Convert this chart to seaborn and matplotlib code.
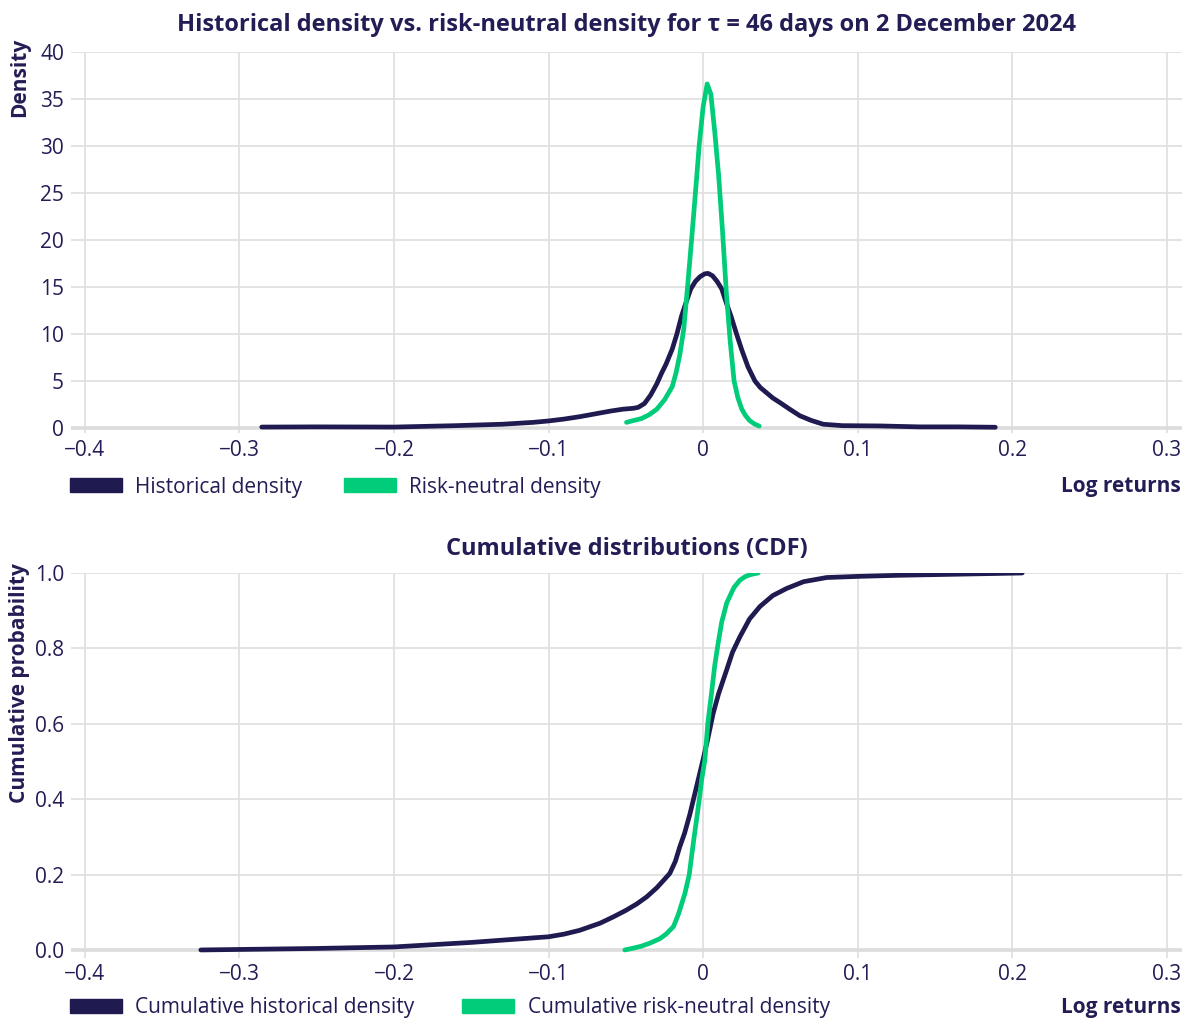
import matplotlib
matplotlib.use("Agg")
import matplotlib.pyplot as plt
from matplotlib.patches import Patch
import seaborn as sns
import pandas as pd

# ---- data: density curves (log returns vs density) ----
hist_x = [-0.2856, -0.25, -0.20, -0.16, -0.13, -0.11, -0.10, -0.09, -0.08, -0.07,
          -0.06, -0.052, -0.045, -0.042, -0.038, -0.034, -0.030, -0.027, -0.024,
          -0.020, -0.017, -0.014, -0.011, -0.008, -0.005, -0.002, 0.001, 0.0032,
          0.006, 0.009, 0.012, 0.015, 0.018, 0.0216, 0.025, 0.029, 0.0335, 0.037,
          0.045, 0.0497, 0.056, 0.0626, 0.070, 0.0777, 0.090, 0.114, 0.14, 0.165,
          0.189]
hist_y = [0.1, 0.12, 0.1, 0.25, 0.4, 0.6, 0.75, 0.95, 1.2, 1.5,
          1.8, 2.0, 2.1, 2.2, 2.6, 3.5, 4.7, 5.8, 6.8,
          8.4, 10.0, 11.9, 13.4, 14.8, 15.6, 16.1, 16.4, 16.45,
          16.2, 15.6, 14.8, 13.3, 11.9, 10.0, 8.3, 6.5, 5.0, 4.3,
          3.2, 2.7, 2.0, 1.3, 0.8, 0.4, 0.25, 0.22, 0.12, 0.12,
          0.08]

rn_x = [-0.0496, -0.045, -0.040, -0.035, -0.030, -0.025, -0.020, -0.0175, -0.015,
        -0.0125, -0.010, -0.0075, -0.005, -0.0025, 0.000, 0.0026, 0.005, 0.0075,
        0.010, 0.0125, 0.015, 0.0175, 0.020, 0.0225, 0.025, 0.0275, 0.030, 0.033,
        0.0363]
rn_y = [0.6, 0.8, 1.0, 1.4, 2.0, 3.0, 4.4, 5.9, 7.9,
        10.6, 15.2, 20.0, 25.0, 30.2, 34.2, 36.6, 35.5, 31.5,
        26.9, 21.0, 14.4, 9.2, 5.0, 3.2, 2.0, 1.3, 0.8, 0.45,
        0.2]

# ---- data: cumulative distributions ----
cdf_hist_x = [-0.325, -0.25, -0.20, -0.15, -0.10, -0.09, -0.08, -0.0667, -0.058,
              -0.05, -0.043, -0.0365, -0.030, -0.026, -0.0216, -0.018, -0.0151,
              -0.012, -0.0086, -0.003, 0.0, 0.003, 0.0065, 0.010, 0.0152, 0.019,
              0.0238, 0.030, 0.0367, 0.045, 0.054, 0.065, 0.0799, 0.100, 0.1274,
              0.2064]
cdf_hist_y = [0.0, 0.004, 0.008, 0.02, 0.035, 0.042, 0.052, 0.071, 0.088,
              0.105, 0.122, 0.141, 0.165, 0.183, 0.203, 0.235, 0.274,
              0.31, 0.36, 0.455, 0.506, 0.56, 0.628, 0.68, 0.743, 0.79,
              0.831, 0.878, 0.911, 0.94, 0.959, 0.977, 0.988, 0.991, 0.994,
              1.0]

cdf_rn_x = [-0.0507, -0.045, -0.040, -0.0345, -0.028, -0.024, -0.0192, -0.016,
            -0.0118, -0.009, -0.0075, -0.006, -0.0043, -0.0025, -0.001, 0.0011,
            0.003, 0.0054, 0.0075, 0.0097, 0.012, 0.0152, 0.018, 0.0200, 0.0238,
            0.027, 0.0300, 0.033, 0.0356]
cdf_rn_y = [0.0, 0.005, 0.01, 0.018, 0.03, 0.042, 0.062, 0.095,
            0.15, 0.2, 0.248, 0.295, 0.345, 0.4, 0.451, 0.504,
            0.6, 0.681, 0.755, 0.814, 0.87, 0.920, 0.945, 0.962, 0.981,
            0.99, 0.995, 0.998, 1.0]

x_ticks = [-0.4, -0.3, -0.2, -0.1, 0.0, 0.1, 0.2, 0.3]
x_tick_labels = ["\u22120.4", "\u22120.3", "\u22120.2", "\u22120.1", "0", "0.1", "0.2", "0.3"]
dens_ticks = [0, 5, 10, 15, 20, 25, 30, 35, 40]
prob_ticks = [0.0, 0.2, 0.4, 0.6, 0.8, 1.0]
prob_tick_labels = ["0.0", "0.2", "0.4", "0.6", "0.8", "1.0"]

NAVY = "#1f1a4f"
GREEN = "#00cc7a"
TEXT = "#231d55"
GRID = "#e0e0e0"

sns.set_theme(style="white")
plt.rcParams["font.family"] = ["Open Sans", "DejaVu Sans"]
plt.rcParams["text.color"] = TEXT
plt.rcParams["axes.labelcolor"] = TEXT
plt.rcParams["xtick.color"] = TEXT
plt.rcParams["ytick.color"] = TEXT

FS = 15
TFS = 17

W, H = 1183, 1019
fig = plt.figure(figsize=(W / 100, H / 100), dpi=100)


def fx(px):
    return px / W


def fy(py):
    return 1 - py / H


ax1 = fig.add_axes([fx(71), fy(432.7), fx(1182) - fx(71), fy(52) - fy(432.7)])
ax2 = fig.add_axes([fx(71), fy(957.5), fx(1182) - fx(71), fy(573) - fy(957.5)])

line_kw = dict(linewidth=3.4, solid_capstyle="round", solid_joinstyle="round",
               estimator=None, sort=False)

df_hist = pd.DataFrame({"x": hist_x, "y": hist_y})
df_rn = pd.DataFrame({"x": rn_x, "y": rn_y})
sns.lineplot(data=df_hist, x="x", y="y", ax=ax1, color=NAVY, zorder=3, **line_kw)
sns.lineplot(data=df_rn, x="x", y="y", ax=ax1, color=GREEN, zorder=4, **line_kw)

df_chist = pd.DataFrame({"x": cdf_hist_x, "y": cdf_hist_y})
df_crn = pd.DataFrame({"x": cdf_rn_x, "y": cdf_rn_y})
sns.lineplot(data=df_chist, x="x", y="y", ax=ax2, color=NAVY, zorder=3, **line_kw)
sns.lineplot(data=df_crn, x="x", y="y", ax=ax2, color=GREEN, zorder=4, **line_kw)

xlim = (-0.409, 0.3098)
for ax, ylim, yt, ytl in [(ax1, (-0.5, 40), dens_ticks, [str(t) for t in dens_ticks]),
                          (ax2, (-0.02, 1.0), prob_ticks, prob_tick_labels)]:
    ax.set_xlim(*xlim)
    ax.set_ylim(*ylim)
    ax.set_xticks(x_ticks)
    ax.set_xticklabels(x_tick_labels)
    ax.set_yticks(yt)
    ax.set_yticklabels(ytl)
    ax.grid(True, color=GRID, linewidth=1.3, zorder=0)
    ax.set_axisbelow(True)
    ax.axhline(0, color="#dcdcdc", linewidth=2.6, zorder=1)
    for s in ax.spines.values():
        s.set_visible(False)
    ax.tick_params(axis="both", length=0, labelsize=FS)
    ax.tick_params(axis="x", pad=5)
    ax.tick_params(axis="y", pad=5)
    ax.set_xlabel("")
    ax.set_ylabel("")

ax1.set_title("Historical density vs. risk-neutral density for \u03c4 = 46 days on 2 December 2024",
              fontsize=TFS, fontweight="bold", color=TEXT, pad=15)
ax2.set_title("Cumulative distributions (CDF)", fontsize=TFS, fontweight="bold",
              color=TEXT, pad=13)

fig.text(fx(20), fy(38), "Density", rotation=90, ha="center", va="top",
         fontsize=FS, fontweight="bold", color=TEXT)
fig.text(fx(20), fy(563), "Cumulative probability", rotation=90, ha="center", va="top",
         fontsize=FS, fontweight="bold", color=TEXT)

fig.text(fx(1181), fy(486), "Log returns", ha="right", va="center",
         fontsize=FS, fontweight="bold", color=TEXT)
fig.text(fx(1181), fy(1007), "Log returns", ha="right", va="center",
         fontsize=FS, fontweight="bold", color=TEXT)

leg_kw = dict(loc="center left", frameon=False, ncol=2, borderpad=0,
              handlelength=2.5, handleheight=0.67, handletextpad=0.63,
              fontsize=FS, bbox_transform=fig.transFigure, borderaxespad=0)
ax1.legend(handles=[Patch(color=NAVY, label="Historical density"),
                    Patch(color=GREEN, label="Risk-neutral density")],
           bbox_to_anchor=(fx(70), fy(487)), columnspacing=2.0, **leg_kw)
ax2.legend(handles=[Patch(color=NAVY, label="Cumulative historical density"),
                    Patch(color=GREEN, label="Cumulative risk-neutral density")],
           bbox_to_anchor=(fx(70), fy(1008)), columnspacing=2.3, **leg_kw)

fig.savefig("out.png", dpi=100, facecolor="white")
